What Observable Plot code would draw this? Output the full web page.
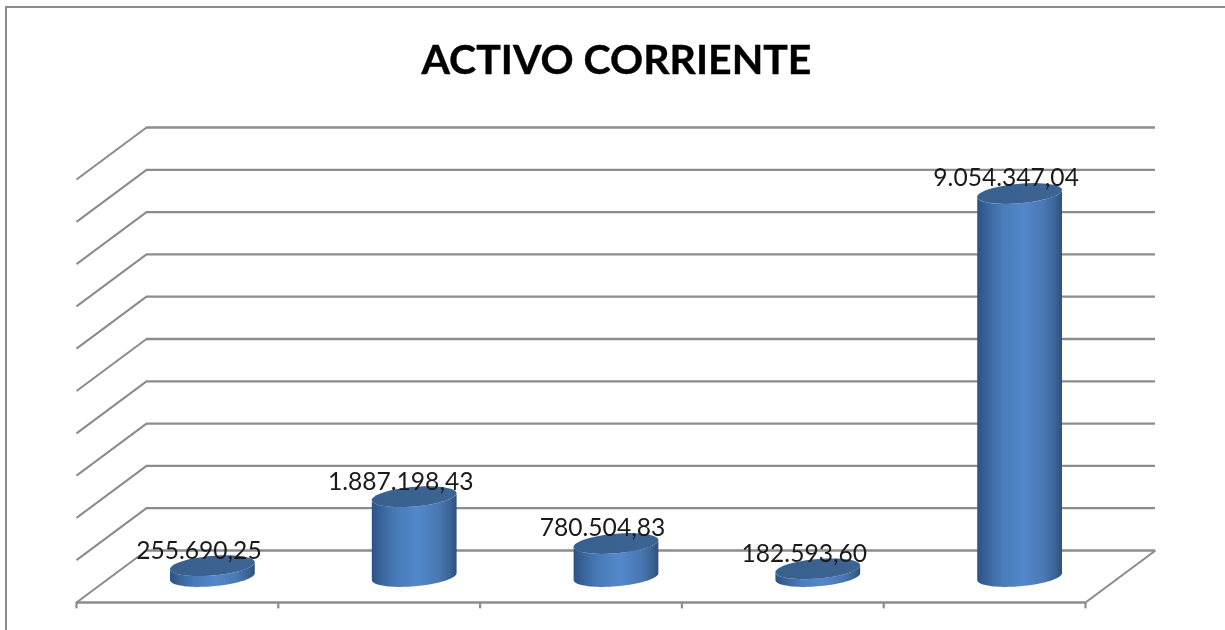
<!DOCTYPE html>
<html lang="es">
<head>
<meta charset="utf-8">
<script src="https://cdn.jsdelivr.net/npm/d3@7"></script>
<script src="https://cdn.jsdelivr.net/npm/@observablehq/plot@0.6"></script>
<style>
  html, body { margin: 0; padding: 0; background: #fff; overflow: hidden; }
  #frame { position: relative; width: 1225px; height: 630px; overflow: hidden; filter: blur(0.6px); }
  #border { position: absolute; left: 5px; top: 6px; width: 1300px; height: 700px; border: 2.5px solid #8c8c8c; }
  #title { position: absolute; left: 0; top: 0; width: 1233px; height: 100px; text-align: center;
           font: 700 41px/118px Lato, sans-serif; color: #000; -webkit-text-stroke: 0.4px #000; }
  #chart { position: absolute; left: 0; top: 100px; }
  #chart svg { display: block; background: transparent; }
</style>
</head>
<body>
<div id="frame">
  <div id="border"></div>
  <div id="title">ACTIVO CORRIENTE</div>
  <div id="chart"></div>
</div>
<script>
const valueLabels = ["255.690,25", "1.887.198,43", "780.504,83", "182.593,60", "9.054.347,04"];
const values = [255690.25, 1887198.43, 780504.83, 182593.60, 9054347.04];
const gridValues = [0, 1e6, 2e6, 3e6, 4e6, 5e6, 6e6, 7e6, 8e6, 9e6, 1e7];
const categoryEdges = [0, 1, 2, 3, 4, 5];

// floor depth expressed in scale units
const depthX = 70 / 201.8;
const depthY = 52 / 42.3 * 1e6;
const px = (x, d) => x + depthX * d;
const py = (v, d) => v + depthY * d;

// cylinder footprint on the skewed floor
const radius = 40 / 201.8, depthR = 0.2;
const t0 = Math.atan2(depthR * depthX, radius);
const pt = (i, v, t) => ({
  i,
  x: px(i + 0.5, 0.5) + radius * Math.cos(t) + depthR * depthX * Math.sin(t),
  y: py(v, 0.5) + depthR * depthY * Math.sin(t)
});
const angles = d3.range(0, 49).map(k => k / 48);
const bodies = values.flatMap((v, i) => [
  ...angles.map(a => pt(i, 0, t0 + Math.PI + a * Math.PI)),
  ...angles.map(a => pt(i, v, t0 + 2 * Math.PI - a * Math.PI))
]);
const tops = values.flatMap((v, i) => angles.map(a => pt(i, v, a * 2 * Math.PI)));

const gradients = () => {
  const defs = d3.create("svg:defs");
  const add = (id, stops) => {
    const g = defs.append("linearGradient").attr("id", id).attr("x1", 0).attr("x2", 1).attr("y1", 0).attr("y2", 0);
    stops.forEach(([o, c]) => g.append("stop").attr("offset", o).attr("stop-color", c));
  };
  add("cylBody", [[0, "#2c5285"], [0.12, "#3a659c"], [0.3, "#4a7cb9"], [0.55, "#5388cb"], [0.78, "#4a79b4"], [0.92, "#3c6496"], [1, "#2e4f7a"]]);
  add("cylTop", [[0, "#38608f"], [1, "#3d6492"]]);
  return defs.node();
};

const line = "#8c8c8c";
const chart = Plot.plot({
  width: 1225,
  height: 530,
  margin: 0,
  x: { domain: [0, 5], range: [76, 1085], axis: null },
  y: { domain: [0, 1e7], range: [502, 79], axis: null },
  marks: [
    gradients,
    // back wall
    Plot.ruleY(gridValues, { x1: px(0, 1), x2: px(5, 1), y: d => py(d, 1), stroke: line, strokeWidth: 2.3 }),
    // side wall
    Plot.link(gridValues, { x1: px(0, 0), x2: px(0, 1), y1: d => d, y2: d => py(d, 1), stroke: line, strokeWidth: 2.1 }),
    // floor
    Plot.ruleY([0], { x1: 0, x2: 5, stroke: line, strokeWidth: 2.3 }),
    Plot.link([0], { x1: px(5, 0), x2: px(5, 1), y1: 0, y2: py(0, 1), stroke: line, strokeWidth: 2.1 }),
    Plot.ruleX(categoryEdges, { x: d => d, y1: 0, y2: -150000, stroke: line, strokeWidth: 2.2 }),
    // cylinders
    Plot.line(bodies, { x: "x", y: "y", z: "i", fill: "url(#cylBody)", stroke: "none" }),
    Plot.line(tops, { x: "x", y: "y", z: "i", fill: "url(#cylTop)", stroke: "none" }),
    // labels
    Plot.text(values, {
      x: (d, i) => px(i + 0.5, 0.5),
      y: d => py(d, 0.5),
      text: (d, i) => valueLabels[i],
      dx: -13.5,
      dy: -15,
      fontSize: 24.6,
      fontFamily: "Lato, sans-serif",
      fill: "#1a1a1a"
    })
  ]
});
document.getElementById("chart").appendChild(chart);
</script>
</body>
</html>
